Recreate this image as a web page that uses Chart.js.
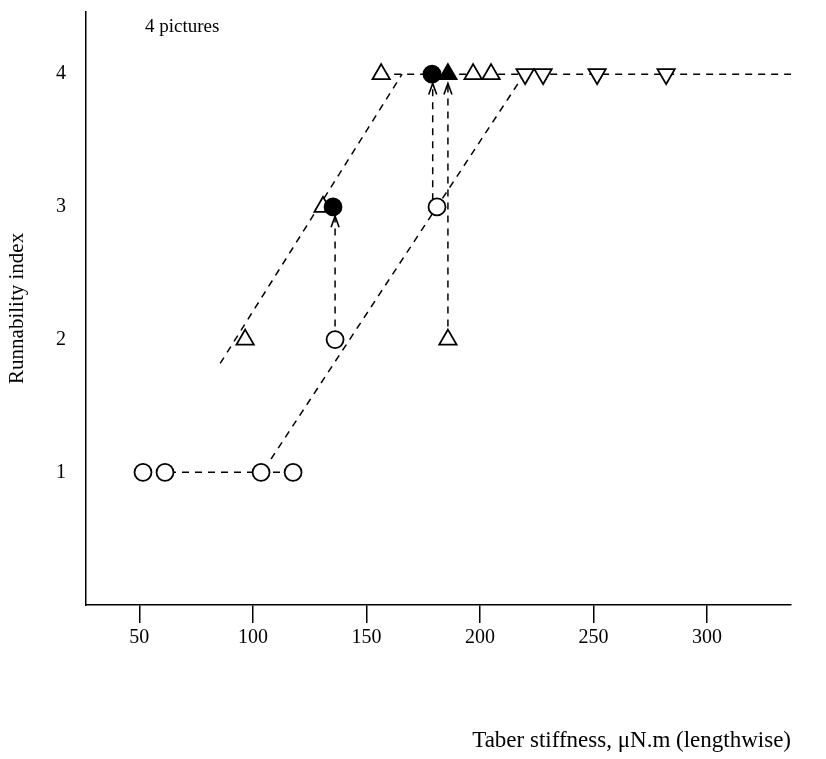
<!DOCTYPE html>
<html><head><meta charset="utf-8">
<script src="https://cdn.jsdelivr.net/npm/chart.js@4/dist/chart.umd.min.js"></script>
<style>html,body{margin:0;padding:0;background:#fff}canvas{display:block}</style>
</head><body>
<canvas id="c" width="826" height="759"></canvas>
<script>
// ---- data ----
const xTicks = [50, 100, 150, 200, 250, 300];
const yTicks = [1, 2, 3, 4];
const openCircleX = [51.6, 61.3, 103.6, 117.7, 136.2, 181.1];
const openCircleY = [1, 1, 1, 1, 2, 3];
const filledCircleX = [135.3, 178.9];
const filledCircleY = [3, 4];
const openTriX = [96.6, 130.9, 156.5, 185.9, 197.0, 204.9];
const openTriY = [2, 3, 4, 2, 4, 4];
const filledTriX = [185.9];
const filledTriY = [4];
const downTriX = [219.9, 227.8, 251.6, 282.0];
const downTriY = [4, 4, 4, 4];
const lowLineX = [51.6, 117.7];
const lowLineY = [1, 1];
const topLineX = [156.5, 337];
const topLineY = [4, 4];
const leftDiagX = [85.6, 165.7];
const leftDiagY = [1.82, 4];
const rightDiagX = [108, 219.5];
const rightDiagY = [1.1, 4];
const arrow1X = [136.2, 136.2];
const arrow1Y = [2, 2.93];
const arrow2X = [179.2, 179.2];
const arrow2Y = [3.05, 3.93];
const arrow3X = [185.9, 185.9];
const arrow3Y = [2, 3.93];
const noteText = '4 pictures';

const pts = (xs, ys) => xs.map((x, i) => ({x: x, y: ys[i]}));
const serif = '"Liberation Serif", "DejaVu Serif", serif';

function marker(xs, ys, style, filled, radius, rot) {
  return {
    data: pts(xs, ys), showLine: false, order: 0,
    pointStyle: style, pointRadius: radius, pointRotation: rot || 0,
    pointBackgroundColor: filled ? '#000' : '#fff',
    pointBorderColor: '#000', pointBorderWidth: 1.8
  };
}
function dashed(xs, ys, arrow) {
  return {
    data: pts(xs, ys), showLine: true, order: 1, arrow: !!arrow,
    borderColor: '#000', borderWidth: 1.5, borderDash: [7, 6],
    pointRadius: 0, fill: false
  };
}

const arrowPlugin = {
  id: 'arrowheads',
  afterDatasetsDraw(chart) {
    const ctx = chart.ctx;
    chart.data.datasets.forEach((ds, i) => {
      if (!ds.arrow) return;
      const meta = chart.getDatasetMeta(i);
      const p = meta.data[meta.data.length - 1];
      ctx.save();
      ctx.strokeStyle = '#000';
      ctx.lineWidth = 1.6;
      ctx.beginPath();
      ctx.moveTo(p.x - 4, p.y + 11);
      ctx.lineTo(p.x, p.y);
      ctx.lineTo(p.x + 4, p.y + 11);
      ctx.stroke();
      ctx.restore();
    });
  },
  afterDraw(chart) {
    const ctx = chart.ctx, a = chart.chartArea;
    ctx.save();
    ctx.fillStyle = '#000';
    ctx.font = '19px ' + serif;
    ctx.textBaseline = 'middle';
    ctx.fillText(noteText, a.left + 59, a.top + 15);
    ctx.restore();
  }
};

new Chart(document.getElementById('c'), {
  type: 'scatter',
  data: {
    datasets: [
      marker(filledCircleX, filledCircleY, 'circle', true, 8.5),
      marker(filledTriX, filledTriY, 'triangle', true, 10),
      marker(openCircleX, openCircleY, 'circle', false, 8.5),
      marker(openTriX, openTriY, 'triangle', false, 10),
      marker(downTriX, downTriY, 'triangle', false, 10, 180),
      dashed(lowLineX, lowLineY),
      dashed(topLineX, topLineY),
      dashed(leftDiagX, leftDiagY),
      dashed(rightDiagX, rightDiagY),
      dashed(arrow1X, arrow1Y, true),
      dashed(arrow2X, arrow2Y, true),
      dashed(arrow3X, arrow3Y, true)
    ]
  },
  options: {
    responsive: false,
    animation: false,
    layout: {padding: {left: 0, top: 3, right: 35, bottom: 0}},
    plugins: {legend: {display: false}, tooltip: {enabled: false}},
    scales: {
      x: {
        type: 'linear', min: 26.5, max: 337,
        afterBuildTicks: s => { s.ticks = xTicks.map(v => ({value: v})); },
        afterFit: s => { s.height = 154; s.paddingLeft = 0; s.paddingRight = 0; },
        grid: {display: true, drawOnChartArea: false, drawTicks: true, tickLength: 18, color: '#000', lineWidth: 1.5},
        border: {display: true, color: '#000', width: 1.5},
        ticks: {color: '#000', font: {family: serif, size: 20}, padding: 3},
        title: {display: true, text: 'Taber stiffness, \u03bcN.m (lengthwise)', align: 'end', color: '#000',
                font: {family: serif, size: 23}, padding: {top: 0, bottom: 4}}
      },
      y: {
        type: 'linear', min: 0, max: 4.47,
        afterBuildTicks: s => { s.ticks = yTicks.map(v => ({value: v})); },
        afterFit: s => { s.width = 86; s.paddingTop = 0; s.paddingBottom = 0; },
        grid: {display: true, drawOnChartArea: false, drawTicks: false, color: '#000'},
        border: {display: true, color: '#000', width: 1.5},
        ticks: {color: '#000', font: {family: serif, size: 20}, padding: 20},
        title: {display: true, text: 'Runnability index', color: '#000',
                font: {family: serif, size: 21}, padding: {top: 5, bottom: 0}}
      }
    }
  },
  plugins: [arrowPlugin]
});
</script>
</body></html>
